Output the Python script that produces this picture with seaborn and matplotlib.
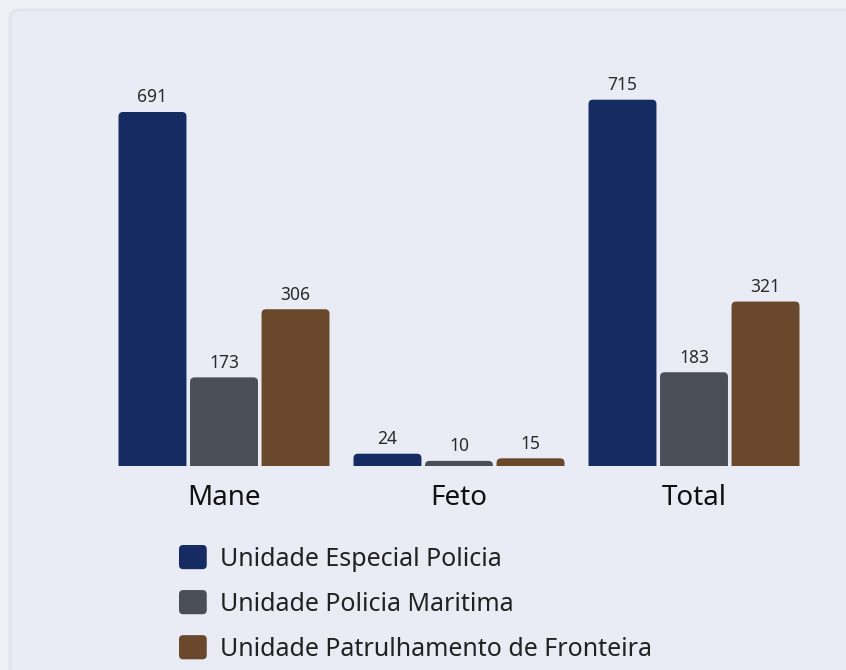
import seaborn as sns
import pandas as pd
import matplotlib.pyplot as plt
from matplotlib.patches import FancyBboxPatch, Patch
from matplotlib.legend_handler import HandlerPatch

categories = ["Mane", "Feto", "Total"]
units = ["Unidade Especial Policia", "Unidade Policia Maritima", "Unidade Patrulhamento de Fronteira"]
esp = [691, 24, 715]
maritima = [173, 10, 183]
fronteira = [306, 15, 321]
colors = ["#172b63", "#4a4e57", "#69482c"]

df = pd.DataFrame({
    "categoria": categories * 3,
    "unidade": [units[0]] * 3 + [units[1]] * 3 + [units[2]] * 3,
    "valor": esp + maritima + fronteira,
})


class RoundHandler(HandlerPatch):
    # quadrado arredondado na legenda
    def create_artists(self, legend, orig_handle, xdescent, ydescent, width, height, fontsize, trans):
        p = FancyBboxPatch((-xdescent, -ydescent), width, height,
                           boxstyle="round,pad=0,rounding_size=3",
                           facecolor=orig_handle.get_facecolor(), edgecolor="none",
                           transform=trans)
        return [p]


sns.set_theme(style="white")
plt.rcParams["font.family"] = ["Noto Sans", "DejaVu Sans"]

fig = plt.figure(figsize=(8.46, 6.7), dpi=100, facecolor="#eef1f6")
# cartao de fundo
card = FancyBboxPatch((10 / 846, 0 - 0.05), 1.0, 1 - 10 / 670 + 0.05,
                      boxstyle="round,pad=0,rounding_size=0.012",
                      transform=fig.transFigure, facecolor="#e9ecf5",
                      edgecolor="#dfe3ec", linewidth=2, zorder=-10)
fig.patches.append(card)

ax = fig.add_axes([106.5 / 846, 1 - 466 / 670, 705 / 846, 399.6 / 670])
ax.set_facecolor("none")

sns.barplot(data=df, x="categoria", y="valor", hue="unidade", palette=colors,
            width=0.913, gap=0.05, saturation=1, legend=False, ax=ax)
ax.set_ylim(0, 780)
ax.set_xlim(-0.5, 2.5)

for container in ax.containers:
    ax.bar_label(container, padding=4, fontsize=12.5, color="#2b2b2b")

# barras com cantos superiores arredondados
px_x = 705 / 3.0
px_y = 399.6 / 780
aspect = px_x / px_y
r = 4.5 / px_x
for p in list(ax.patches):
    x, w, h = p.get_x(), p.get_width(), p.get_height()
    fc = p.get_facecolor()
    p.remove()
    ry = r * aspect
    nb = FancyBboxPatch((x, -ry), w, h + ry,
                        boxstyle=f"round,pad=0,rounding_size={r}",
                        mutation_aspect=aspect, facecolor=fc,
                        edgecolor="none", clip_on=True)
    ax.add_patch(nb)

for s in ax.spines.values():
    s.set_visible(False)
ax.set_yticks([])
ax.set_xlabel("")
ax.set_ylabel("")
ax.tick_params(axis="x", length=0, pad=13, labelsize=20, labelcolor="#111111")

handles = [Patch(facecolor=c, label=u) for c, u in zip(colors, units)]
fig.legend(handles=handles, loc="upper left", bbox_to_anchor=(179 / 846, 1 - 545 / 670),
           frameon=False, fontsize=18, handlelength=1.11, handleheight=1.11,
           handletextpad=0.52, labelspacing=0.74, borderpad=0, borderaxespad=0,
           labelcolor="#222222", handler_map={Patch: RoundHandler()})

fig.savefig("out.png", dpi=100, facecolor=fig.get_facecolor())
